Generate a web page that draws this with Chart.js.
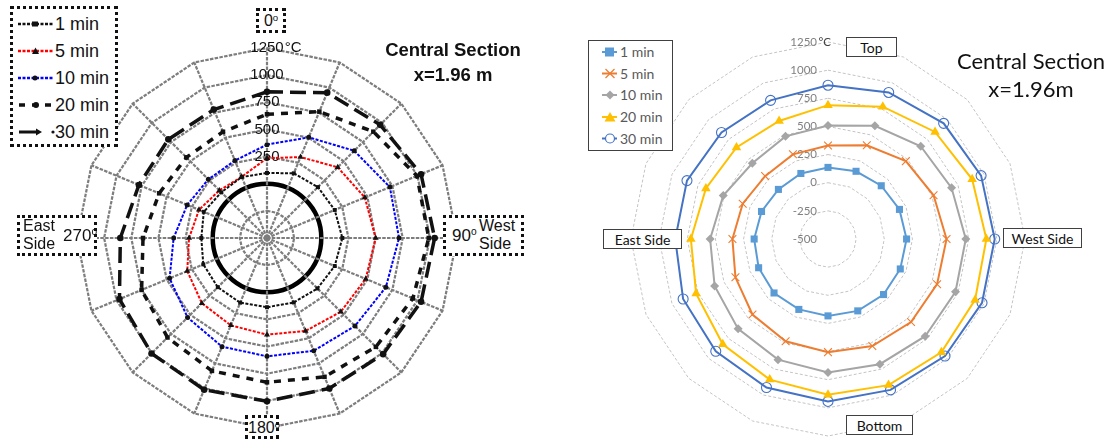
<!DOCTYPE html>
<html>
<head>
<meta charset="utf-8">
<script src="https://cdn.jsdelivr.net/npm/chart.js@4.4.1/dist/chart.umd.min.js"></script>
<style>
  html, body { margin: 0; padding: 0; background: #fff; }
  body { width: 1107px; height: 439px; position: relative; overflow: hidden; }
  canvas { position: absolute; }
  .abs { position: absolute; box-sizing: border-box; }
  .lbox { background: #fff; border: 3px dotted #111; font-family: "Liberation Sans", Arial, sans-serif; color: #111; }
  .rbox { background: #fff; border: 1px solid #404040; font-family: Lato, "Open Sans", sans-serif; color: #111;
          font-size: 14px; display: flex; align-items: center; justify-content: center; }
  sup { font-size: 60%; vertical-align: 0; position: relative; top: -0.55em; }
  .ltitle { font-family: "Liberation Sans", Arial, sans-serif; font-weight: bold; font-size: 18.5px; color: #111;
            text-align: center; line-height: 25px; width: 180px; }
  .rtitle { font-family: Lato, "Open Sans", sans-serif; font-size: 22px; color: #111; text-align: center;
            line-height: 28px; width: 180px; }
  .lleg-row { position: absolute; left: 55px; font-family: "Liberation Sans", Arial, sans-serif; font-size: 18px; color: #111; line-height: 20px; }
  .rleg-row { position: absolute; left: 31px; font-family: Lato, "Open Sans", sans-serif; font-size: 14px; color: #595959; line-height: 18px; }
</style>
</head>
<body>

<canvas id="leftChart" width="420" height="420" style="left:57px; top:28px;"></canvas>
<canvas id="rightChart" width="434" height="434" style="left:611px; top:22px;"></canvas>

<!-- left figure: legend -->
<div class="abs" style="left:10px; top:6px; width:108px; height:141px; border:3px dotted #111; background:#fff;">
  <svg class="abs" style="left:0; top:0;" width="102" height="135">
    <!-- 1 min -->
    <line x1="5" y1="15" x2="41" y2="15" stroke="#111" stroke-width="2.5" stroke-dasharray="3 1.5"/>
    <rect x="19" y="12.5" width="6" height="5" fill="#111"/>
    <!-- 5 min -->
    <line x1="5" y1="42" x2="41" y2="42" stroke="#f00" stroke-width="2.5" stroke-dasharray="3 1.5"/>
    <polygon points="19,45 22.5,38.5 26,45" fill="#111"/>
    <!-- 10 min -->
    <line x1="5" y1="69" x2="41" y2="69" stroke="#00f" stroke-width="2.5" stroke-dasharray="3 1.5"/>
    <circle cx="22" cy="69" r="2.5" fill="#111"/>
    <!-- 20 min -->
    <line x1="6" y1="96" x2="41" y2="96" stroke="#111" stroke-width="3.5" stroke-dasharray="6 7"/>
    <circle cx="23" cy="96" r="3" fill="#111"/>
    <!-- 30 min -->
    <line x1="6" y1="123" x2="24" y2="123" stroke="#111" stroke-width="3"/>
    <polygon points="23,119.5 29,123 23,126.5" fill="#111"/>
    <circle cx="40" cy="123" r="1.6" fill="#111"/>
  </svg>
  <div class="lleg-row" style="left:42px; top:5px;">1 min</div>
  <div class="lleg-row" style="left:42px; top:32px;">5 min</div>
  <div class="lleg-row" style="left:42px; top:59px;">10 min</div>
  <div class="lleg-row" style="left:42px; top:86px;">20 min</div>
  <div class="lleg-row" style="left:42px; top:113px;">30 min</div>
</div>

<!-- left figure: direction boxes -->
<div class="abs lbox" style="left:256px; top:8px; width:30px; height:25px; font-size:16px; text-align:center; line-height:19px;">0<sup>o</sup></div>
<div class="abs lbox" style="left:17px; top:215px; width:80px; height:41px; font-size:16px;">
  <div class="abs" style="left:3px; top:-1px; line-height:18px;">East<br>Side</div>
  <div class="abs" style="left:43px; top:9px; line-height:18px; font-size:17px;">270<sup>o</sup></div>
</div>
<div class="abs lbox" style="left:443px; top:215px; width:81px; height:41px; font-size:16px;">
  <div class="abs" style="left:6px; top:9px; line-height:18px; font-size:17px;">90<sup>o</sup></div>
  <div class="abs" style="left:33px; top:-1px; line-height:18px;">West<br>Side</div>
</div>
<div class="abs lbox" style="left:245px; top:415px; width:34px; height:24px; font-size:16px; text-align:center; line-height:19px;">180<sup>o</sup></div>
<div class="abs ltitle" style="left:363px; top:37px;">Central Section<br>x=1.96 m</div>

<!-- right figure: legend -->
<div class="abs" style="left:588px; top:40px; width:85px; height:111px; border:1px solid #404040; background:#fff;">
  <svg class="abs" style="left:0; top:0;" width="83" height="109">
    <line x1="13" y1="11" x2="28" y2="11" stroke="#5B9BD5" stroke-width="2"/>
    <rect x="16" y="6.5" width="9" height="9" fill="#5B9BD5"/>
    <line x1="13" y1="32.5" x2="28" y2="32.5" stroke="#ED7D31" stroke-width="2"/>
    <path d="M16.5 28 L25.5 37 M25.5 28 L16.5 37" stroke="#ED7D31" stroke-width="1.2"/>
    <line x1="13" y1="54" x2="28" y2="54" stroke="#A5A5A5" stroke-width="2"/>
    <polygon points="21,49.5 25.5,54 21,58.5 16.5,54" fill="#A5A5A5"/>
    <line x1="13" y1="76" x2="28" y2="76" stroke="#FFC000" stroke-width="2"/>
    <polygon points="15.5,80.5 21,71 26.5,80.5" fill="#FFC000"/>
    <line x1="13" y1="97.5" x2="28" y2="97.5" stroke="#4472C4" stroke-width="2"/>
    <circle cx="21" cy="97.5" r="4.5" fill="#fff" stroke="#4472C4" stroke-width="1.2"/>
  </svg>
  <div class="rleg-row" style="top:2px;">1 min</div>
  <div class="rleg-row" style="top:23.5px;">5 min</div>
  <div class="rleg-row" style="top:45px;">10 min</div>
  <div class="rleg-row" style="top:67px;">20 min</div>
  <div class="rleg-row" style="top:88.5px;">30 min</div>
</div>

<!-- right figure: direction boxes -->
<div class="abs rbox" style="left:846px; top:37px; width:51px; height:20px;">Top</div>
<div class="abs rbox" style="left:603px; top:229px; width:79px; height:20px;">East Side</div>
<div class="abs rbox" style="left:1003px; top:228px; width:79px; height:20px;">West Side</div>
<div class="abs rbox" style="left:846px; top:415px; width:67px; height:20px;">Bottom</div>
<div class="abs rtitle" style="left:941px; top:47px;">Central Section<br>x=1.96m</div>

<script>
// sixteen measuring directions around the section, clockwise from the top
const DIRECTIONS = ['0', '22.5', '45', '67.5', '90', '112.5', '135', '157.5',
                    '180', '202.5', '225', '247.5', '270', '292.5', '315', '337.5'];

// left plot: temperatures (°C) per direction
const L_1MIN  = [99, 145, 163, 175, 194, 175, 157, 143, 138, 145, 141, 135, 105, 130, 95, 108];
const L_5MIN  = [235, 307, 421, 475, 501, 484, 461, 427, 390, 371, 349, 295, 218, 178, 120, 110];
const L_10MIN = [360, 504, 636, 725, 716, 685, 646, 624, 590, 583, 535, 471, 360, 296, 264, 272];
const L_20MIN = [640, 760, 885, 995, 990, 954, 918, 884, 829, 825, 796, 750, 642, 575, 550, 559];
const L_30MIN = [846, 949, 974, 1036, 1044, 1036, 1013, 1000, 1004, 1013, 1004, 971, 851, 777, 785, 780];
const L_TICKS = [250, 500, 750, 1000, 1250];

// right plot: temperatures (°C) per direction
const R_1MIN  = [136, 151, 169, 187, 198, 195, 198, 191, 183, 177, 178, 167, 156, 139, 123, 130];
const R_5MIN  = [331, 401, 478, 515, 553, 549, 543, 529, 505, 484, 449, 390, 349, 320, 290, 314];
const R_10MIN = [508, 588, 665, 688, 724, 726, 721, 704, 686, 660, 629, 590, 547, 507, 451, 487];
const R_20MIN = [689, 772, 845, 886, 907, 914, 924, 905, 884, 852, 822, 768, 718, 674, 650, 635];
const R_30MIN = [866, 909, 953, 972, 981, 981, 970, 951, 943, 928, 910, 893, 857, 856, 838, 833];
const R_TICKS = [-500, -250, 0, 250, 500, 750, 1000, 1250];

const SCALE_MIN = -500, SCALE_MAX = 1250, SCALE_STEP = 250;
const UNIT = '°C';

// writes the radial tick values along the upward axis
const tickTextPlugin = {
  id: 'tickText',
  beforeDatasetsDraw(chart, args, o) {
    const s = chart.scales.r;
    const ctx = chart.ctx;
    ctx.save();
    ctx.textBaseline = 'middle';
    o.values.forEach(v => {
      const y = s.yCenter - s.getDistanceFromCenterForValue(v);
      ctx.font = o.font;
      ctx.fillStyle = o.color;
      ctx.textAlign = o.align;
      const txt = String(v);
      const x = s.xCenter + o.dx;
      ctx.fillText(txt, x, y);
      if (v === SCALE_MAX) {
        const w = ctx.measureText(txt).width;
        const ux = o.align === 'center' ? x + w / 2 + o.unitGap : x + o.unitGap;
        ctx.textAlign = 'left';
        ctx.fillStyle = o.unitColor;
        ctx.fillText(UNIT, ux, y);
      }
    });
    ctx.restore();
  }
};

function series(label, data, style) {
  return Object.assign({ label, data, fill: false, tension: 0 }, style);
}

const GRID_GREY = '#7d7d7d';

new Chart(document.getElementById('leftChart'), {
  type: 'radar',
  data: {
    labels: DIRECTIONS,
    datasets: [
      series('1 min', L_1MIN, { borderColor: '#111', borderWidth: 2, borderDash: [3, 1.5],
        pointStyle: 'rect', pointRadius: 2.8, pointBackgroundColor: '#111', pointBorderColor: '#111', pointBorderWidth: 0 }),
      series('5 min', L_5MIN, { borderColor: '#ff0000', borderWidth: 2, borderDash: [3, 1.5],
        pointStyle: 'triangle', pointRadius: 3.5, pointBackgroundColor: '#111', pointBorderColor: '#111', pointBorderWidth: 0 }),
      series('10 min', L_10MIN, { borderColor: '#0000ff', borderWidth: 2, borderDash: [3, 1.5],
        pointStyle: 'circle', pointRadius: 2.5, pointBackgroundColor: '#111', pointBorderColor: '#111', pointBorderWidth: 0 }),
      series('20 min', L_20MIN, { borderColor: '#111', borderWidth: 3.5, borderDash: [7, 7],
        pointStyle: 'rect', pointRadius: 3.2, pointBackgroundColor: '#111', pointBorderColor: '#111', pointBorderWidth: 0 }),
      series('30 min', L_30MIN, { borderColor: '#111', borderWidth: 3.5, borderDash: [16, 7],
        pointStyle: 'circle', pointRadius: 3.3, pointBackgroundColor: '#111', pointBorderColor: '#111', pointBorderWidth: 0 })
    ]
  },
  options: {
    responsive: false,
    animation: false,
    layout: { padding: 20 },
    plugins: {
      legend: { display: false },
      tooltip: { enabled: false },
      tickText: { values: L_TICKS, font: '15px "Liberation Sans", Arial, sans-serif', color: '#111',
                  align: 'center', dx: 0, unitGap: 1, unitColor: '#111' }
    },
    scales: {
      r: {
        min: SCALE_MIN, max: SCALE_MAX,
        ticks: { stepSize: SCALE_STEP, display: false },
        pointLabels: { display: false },
        angleLines: { color: GRID_GREY, lineWidth: 2.2, borderDash: [3.5, 1.3] },
        grid: {
          color: c => c.tick && c.tick.value === 0 ? '#000' : GRID_GREY,
          lineWidth: c => c.tick && c.tick.value === 0 ? 4.5 : 2.2,
          circular: c => !!(c.tick && c.tick.value === 0)
        },
        border: { dash: c => (c.tick && c.tick.value === 0) ? [] : [3.5, 1.3] }
      }
    }
  },
  plugins: [tickTextPlugin]
});

new Chart(document.getElementById('rightChart'), {
  type: 'radar',
  data: {
    labels: DIRECTIONS,
    datasets: [
      series('1 min', R_1MIN, { borderColor: '#5B9BD5', borderWidth: 2,
        pointStyle: 'rect', pointRadius: 5, pointBackgroundColor: '#5B9BD5', pointBorderColor: '#5B9BD5', pointBorderWidth: 0 }),
      series('5 min', R_5MIN, { borderColor: '#ED7D31', borderWidth: 2,
        pointStyle: 'crossRot', pointRadius: 5.5, pointBorderColor: '#ED7D31', pointBorderWidth: 1.1 }),
      series('10 min', R_10MIN, { borderColor: '#A5A5A5', borderWidth: 2,
        pointStyle: 'rectRot', pointRadius: 4.5, pointBackgroundColor: '#A5A5A5', pointBorderColor: '#A5A5A5', pointBorderWidth: 0 }),
      series('20 min', R_20MIN, { borderColor: '#FFC000', borderWidth: 2,
        pointStyle: 'triangle', pointRadius: 5.5, pointBackgroundColor: '#FFC000', pointBorderColor: '#FFC000', pointBorderWidth: 0 }),
      series('30 min', R_30MIN, { borderColor: '#4472C4', borderWidth: 2,
        pointStyle: 'circle', pointRadius: 5, pointBackgroundColor: 'rgba(255,255,255,0)', pointBorderColor: '#4472C4', pointBorderWidth: 1.1 })
    ]
  },
  options: {
    responsive: false,
    animation: false,
    layout: { padding: 20 },
    plugins: {
      legend: { display: false },
      tooltip: { enabled: false },
      tickText: { values: R_TICKS, font: '11.5px Lato, "Open Sans", sans-serif', color: '#808080',
                  align: 'right', dx: -11, unitGap: 1.5, unitColor: '#404040' }
    },
    scales: {
      r: {
        min: SCALE_MIN, max: SCALE_MAX,
        ticks: { stepSize: SCALE_STEP, display: false },
        pointLabels: { display: false },
        angleLines: { display: false },
        grid: { color: '#c4c4c4', lineWidth: 1 },
        border: { dash: [3, 2] }
      }
    }
  },
  plugins: [tickTextPlugin]
});
</script>
</body>
</html>
